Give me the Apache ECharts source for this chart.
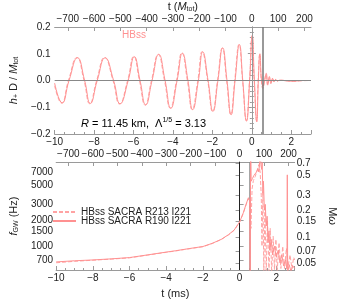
<!DOCTYPE html>
<html><head><meta charset="utf-8">
<script src="https://cdn.jsdelivr.net/npm/echarts@6/dist/echarts.min.js"></script>
<style>html,body{margin:0;padding:0;background:#fff}#c{width:346px;height:300px}</style>
</head><body><div id="c"></div>
<script>
// ---------- DATA ----------
// top panel: h+ D / Mtot vs t (ms)
const tTopSolid = [-10,-9.62,-9.27,-8.84,-8.48,-8.19,-7.84,-7.44,-7.01,-6.68,-6.27,-5.96,-5.67,-5.38,-5.06,-4.72,-4.40,-4.11,-3.79,-3.52,-3.24,-3.00,-2.71,-2.49,-2.22,-1.97,-1.72,-1.48,-1.26,-1.05,-0.85,-0.63,-0.46,-0.27,-0.11,0.02,0.13,0.25,0.33,0.41,0.49,0.57,0.65,0.73,0.81,0.89,0.97,1.05,1.13,1.21,1.30,1.40,1.60,1.80,2.10,2.40,2.70,3.00];
const hTopSolid = [-0.010,-0.084,0,0.085,0,-0.086,0,0.085,0,-0.087,0,0.089,0,-0.091,0,0.098,0,-0.104,0,0.102,0,-0.109,0,0.107,0,-0.115,0,0.122,0,-0.128,0,0.134,0,-0.152,0,0.169,0,-0.155,0,0.100,0,-0.022,0,0.027,-0.016,0.015,-0.010,0.008,-0.005,0.004,-0.002,0.001,0,-0.002,-0.003,-0.001,0,0];
const tTopDashed = [-10,-9.65,-9.30,-8.87,-8.51,-8.22,-7.87,-7.47,-7.04,-6.71,-6.30,-5.99,-5.70,-5.41,-5.09,-4.75,-4.43,-4.14,-3.82,-3.55,-3.27,-3.03,-2.74,-2.52,-2.24,-1.99,-1.74,-1.50,-1.28,-1.07,-0.87,-0.65,-0.47,-0.28,-0.12,0.01,0.12,0.24,0.32,0.40,0.48,0.56,0.64,0.72,0.80,0.88,0.96,1.04,1.12,1.20,1.30,1.50,1.80,2.10,2.50,3.00];
const hTopDashed = [-0.020,-0.085,0,0.086,0,-0.087,0,0.086,0,-0.088,0,0.090,0,-0.092,0,0.097,0,-0.103,0,0.103,0,-0.108,0,0.108,0,-0.116,0,0.121,0,-0.127,0,0.135,0,-0.150,0,0.165,0,-0.150,0,0.098,0,-0.030,0,0.022,-0.018,0.012,-0.012,0.007,-0.006,0.003,-0.002,0.001,-0.001,-0.003,-0.001,0];
// bottom panel: f_GW (Hz) vs t (ms)
const tBotSolid = [-10,-9,-8,-7,-6,-5,-4,-3.5,-3,-2.5,-2,-1.5,-1,-0.6,-0.3,0,0.2,0.35,0.48,0.55,0.58,0.60,0.63,0.70,0.78,0.85,0.92,1.00,1.05,1.10,1.13,1.16,1.20,1.23,1.27,1.30,1.35,1.40,1.45,1.50,1.55,1.60,1.65,1.72,1.80,1.90,2.00,2.10,2.20,2.30,2.40,2.50,2.58,2.60,2.62,2.70,2.80,2.90,3.00];
const fBotSolid = [665,685,700,720,745,800,860,890,925,960,995,1080,1200,1360,1530,1890,2400,3000,3570,3300,150,20000,5500,5900,6400,6100,7000,7600,7000,9500,12000,8500,7500,9000,4000,5500,2600,3000,1700,2200,1100,1500,900,1200,800,1000,750,900,650,800,600,700,550,6500,500,620,520,600,560];
const tBotDashed = [-10,-9,-8,-7,-6,-5,-4,-3.5,-3,-2.5,-2,-1.5,-1,-0.6,-0.3,0,0.2,0.35,0.48,0.55,0.62,0.68,0.75,0.85,0.95,1.05,1.12,1.18,1.22,1.27,1.32,1.38,1.45,1.52,1.60,1.67,1.75,1.83,1.90,1.98,2.05,2.15,2.25,2.35,2.45,2.55,2.65,2.75,2.85,2.95,3.00];
const fBotDashed = [650,675,695,715,740,795,855,885,920,955,990,1075,1195,1350,1520,1880,2380,2950,3500,3200,1600,4500,5600,6200,6500,8500,7000,3800,1000,4200,500,2700,500,2000,520,1600,500,1300,540,1200,520,1100,560,1000,560,950,600,800,560,750,700];
const legendNames = ['HBss SACRA R213 I221', 'HBss SACRA R190 I221'];
const topMTicks = [-700,-600,-500,-400,-300,-200,-100,0,100,200];
const fTicks = [700,1000,1500,2000,3000,5000,7000];
const mwTicks = [0.05,0.07,0.1,0.15,0.2,0.3,0.5,0.7];
const vLinesTop = [0, 0.57];
const vLinesBot = [0, 0.57];
const fRange = [538, 9100];
const mwRange = [0.0424, 0.716];
const msRange = [-10, 3];
const mRange = [-750, 225];

// ---------- CHART ----------
const FONT = 'Liberation Sans, Arial, sans-serif';
const PINK = '#ff9191';
const PINK2 = '#ffa3a3';
const FRAME = '#9a9a9a';
const TXT = '#222';
const minus = v => (v < 0 ? '\u2212' : '') + Math.abs(v);
const L10 = Math.log10;

const rich = {
  i: {fontStyle: 'italic', fontSize: 11, fontFamily: FONT, color: TXT},
  n: {fontSize: 11, fontFamily: FONT, color: TXT},
  sub: {fontSize: 7, fontFamily: FONT, color: TXT, padding: [6, 0, 0, 0]},
  sup: {fontSize: 7, fontFamily: FONT, color: TXT, padding: [0, 0, 6, 0]}
};

function msAxis(g, name) {
  return {
    type: 'value', gridIndex: g, position: 'bottom', min: msRange[0], max: msRange[1], interval: 2,
    axisLine: {show: true, onZero: false, lineStyle: {color: FRAME}},
    axisTick: {show: true, inside: true, length: 4, lineStyle: {color: FRAME}},
    minorTick: {show: true, splitNumber: 4, length: 2, lineStyle: {color: FRAME}},
    splitLine: {show: false},
    axisLabel: {margin: 3, fontSize: 10, fontFamily: FONT, color: TXT, showMaxLabel: false, formatter: v => minus(v)},
    name: name || '', nameLocation: 'middle', nameGap: 18,
    nameTextStyle: {fontSize: 11, fontFamily: FONT, color: TXT, rich: rich}
  };
}
function mAxis(g, name) {
  return {
    type: 'value', gridIndex: g, position: 'top', min: mRange[0], max: mRange[1],
    axisLine: {show: true, onZero: false, lineStyle: {color: FRAME}},
    axisTick: {show: true, inside: true, length: 4, lineStyle: {color: FRAME}, customValues: topMTicks},
    splitLine: {show: false},
    axisLabel: {margin: 3, fontSize: 10, fontFamily: FONT, color: TXT, customValues: topMTicks, formatter: v => minus(Math.round(v))},
    name: name || '', nameLocation: 'middle', nameGap: 14,
    nameTextStyle: {fontSize: 11, fontFamily: FONT, color: TXT, rich: rich}
  };
}

const fTickVals = fTicks.map(L10);
const mwTickVals = mwTicks.map(L10);
function nearestLabel(v, vals, labels) {
  let bi = 0;
  vals.forEach((x, i) => { if (Math.abs(x - v) < Math.abs(vals[bi] - v)) bi = i; });
  return String(labels[bi]);
}

const option = {
  animation: false,
  backgroundColor: '#fff',
  grid: [
    {left: 38, top: 25, width: 273, height: 109},
    {left: 38, top: 162, width: 273, height: 108}
  ],
  xAxis: [
    msAxis(0),
    mAxis(0, '{n|t (}{i|M}{sub|tot}{n|)}'),
    msAxis(1, '{n|t (ms)}'),
    mAxis(1)
  ],
  yAxis: [
    {
      type: 'value', gridIndex: 0, position: 'left', min: -0.2, max: 0.2, interval: 0.1,
      axisLine: {show: true, lineStyle: {color: FRAME}},
      axisTick: {show: true, inside: true, length: 4, lineStyle: {color: FRAME}},
      minorTick: {show: true, splitNumber: 5, length: 2, lineStyle: {color: FRAME}},
      splitLine: {show: false},
      axisLabel: {margin: 4, fontSize: 10, fontFamily: FONT, color: TXT, formatter: v => (v < 0 ? '\u2212' : '') + Math.abs(v).toFixed(1)},
      name: '{i|h}{sub|+}{n| D / }{i|M}{sub|tot}', nameLocation: 'middle', nameGap: 25,
      nameTextStyle: {fontSize: 11, fontFamily: FONT, color: TXT, rich: rich}
    },
    {
      type: 'value', gridIndex: 0, position: 'right', min: -0.2, max: 0.2, interval: 0.1,
      axisLine: {show: true, lineStyle: {color: FRAME}},
      axisTick: {show: true, inside: true, length: 4, lineStyle: {color: FRAME}},
      minorTick: {show: true, splitNumber: 5, length: 2, lineStyle: {color: FRAME}},
      splitLine: {show: false},
      axisLabel: {show: false}
    },
    {
      type: 'value', gridIndex: 1, position: 'left', min: L10(fRange[0]), max: L10(fRange[1]),
      axisLine: {show: true, lineStyle: {color: FRAME}},
      axisTick: {show: true, inside: true, length: 4, lineStyle: {color: FRAME}, customValues: fTickVals},
      splitLine: {show: false},
      axisLabel: {margin: 3, fontSize: 10, fontFamily: FONT, color: TXT, customValues: fTickVals,
        formatter: v => nearestLabel(v, fTickVals, fTicks)},
      name: '{i|f}{sub|GW}{n| (Hz)}', nameLocation: 'middle', nameGap: 27,
      nameTextStyle: {fontSize: 11, fontFamily: FONT, color: TXT, rich: rich}
    },
    {
      type: 'value', gridIndex: 1, position: 'right', min: L10(mwRange[0]), max: L10(mwRange[1]),
      axisLine: {show: true, lineStyle: {color: FRAME}},
      axisTick: {show: true, inside: true, length: 4, lineStyle: {color: FRAME}, customValues: mwTickVals},
      splitLine: {show: false},
      axisLabel: {margin: 2, fontSize: 10, fontFamily: FONT, color: TXT, customValues: mwTickVals,
        formatter: v => nearestLabel(v, mwTickVals, mwTicks)},
      name: '{n|M}{i|ω}', nameLocation: 'middle', nameGap: 20, nameRotate: -90,
      nameTextStyle: {fontSize: 11, fontFamily: FONT, color: TXT, rich: rich}
    }
  ],
  legend: {
    left: 47, top: 202, orient: 'vertical', itemWidth: 23, itemHeight: 8, itemGap: -1,
    data: legendNames,
    itemStyle: {opacity: 0, color: 'rgba(0,0,0,0)', borderWidth: 0},
    textStyle: {fontSize: 10, fontFamily: FONT, color: TXT}
  },
  graphic: [
    {type: 'text', left: 122, top: 30, style: {text: 'HBss', fontSize: 10, fontFamily: FONT, fill: PINK}},
    {type: 'text', left: 81, top: 117, style: {
      text: '{i|R}{n| = 11.45 km,  Λ}{sup|1/5}{n| = 3.13}',
      rich: rich}}
  ],
  series: [
    {
      name: 'top dashed', type: 'line', xAxisIndex: 0, yAxisIndex: 0, symbol: 'none', smooth: 0.5,
      data: tTopDashed.map((t, i) => [t, hTopDashed[i]]),
      lineStyle: {color: PINK2, width: 1, type: [4, 2]}, z: 2
    },
    {
      name: 'top solid', type: 'line', xAxisIndex: 0, yAxisIndex: 0, symbol: 'none', smooth: 0.5,
      data: tTopSolid.map((t, i) => [t, hTopSolid[i]]),
      lineStyle: {color: PINK, width: 1}, z: 3,
      markLine: {
        silent: true, symbol: 'none', label: {show: false}, animation: false,
        data: [
          {yAxis: 0, lineStyle: {color: '#888', width: 1, type: 'solid'}},
          {xAxis: vLinesTop[0], lineStyle: {color: '#999', width: 1, type: 'solid'}},
          {xAxis: vLinesTop[1], lineStyle: {color: '#777', width: 1.5, type: 'solid'}}
        ]
      }
    },
    {
      name: legendNames[0], type: 'line', xAxisIndex: 2, yAxisIndex: 2, symbol: 'none',
      data: tBotDashed.map((t, i) => [t, L10(fBotDashed[i])]),
      lineStyle: {color: PINK2, width: 1, type: [4, 2]}, itemStyle: {color: PINK2}, z: 2
    },
    {
      name: legendNames[1], type: 'line', xAxisIndex: 2, yAxisIndex: 2, symbol: 'none',
      data: tBotSolid.map((t, i) => [t, L10(fBotSolid[i])]),
      lineStyle: {color: PINK, width: 1}, itemStyle: {color: PINK}, z: 3,
      markLine: {
        silent: true, symbol: 'none', label: {show: false}, animation: false, z: 1,
        data: [
          {xAxis: vLinesBot[0], lineStyle: {color: '#222', width: 1, type: 'solid'}},
          {xAxis: vLinesBot[1], lineStyle: {color: '#888', width: 1.5, type: 'solid'}}
        ]
      }
    }
  ]
};
const chart = echarts.init(document.getElementById('c'), null, {renderer: 'canvas'});
chart.setOption(option);
</script></body></html>
